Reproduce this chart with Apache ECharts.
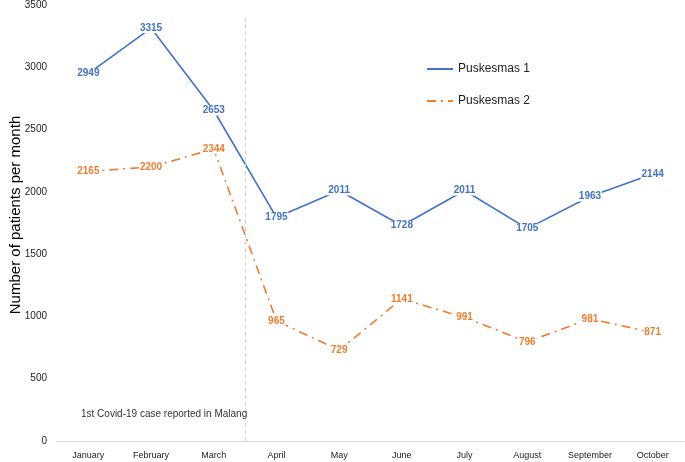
<!DOCTYPE html>
<html><head><meta charset="utf-8">
<script src="https://cdn.jsdelivr.net/npm/echarts@6/dist/echarts.min.js"></script>
<style>html,body{margin:0;padding:0;background:#fff}#c{width:685px;height:462px}</style>
</head><body><div id="c"></div>
<script>
const months = ['January','February','March','April','May','June','July','August','September','October'];
const puskesmas1 = [2949, 3315, 2653, 1795, 2011, 1728, 2011, 1705, 1963, 2144];
const puskesmas2 = [2165, 2200, 2344, 965, 729, 1141, 991, 796, 981, 871];
const seriesNames = ['Puskesmas 1', 'Puskesmas 2'];
const covidBoundary = 3;      // boundary between March and April (in category units)
const covidLineTop = 3400;
const covidNote = '1st Covid-19 case reported in Malang';
const yTicks = {min: 0, max: 3500, interval: 500};

const chart = echarts.init(document.getElementById('c'));
const lbl = (color) => ({
  show: true, position: 'inside', color: color, fontSize: 10, fontWeight: 'bold',
  fontFamily: 'Arial, Liberation Sans, sans-serif',
  backgroundColor: '#fff', padding: [0, 1]
});
chart.setOption({
  animation: false,
  grid: {left: 57, right: 1, top: 5, bottom: 21, containLabel: false, outerBoundsMode: 'none'},
  legend: {
    data: seriesNames, orient: 'vertical', left: 421, top: 58, itemGap: 20,
    itemWidth: 26, itemHeight: 10, itemStyle: {opacity: 0},
    textStyle: {fontSize: 12, color: '#222', fontFamily: 'Liberation Sans, Arial, sans-serif'}
  },
  title: {
    text: covidNote, left: 76, top: 404,
    textStyle: {fontSize: 10, fontWeight: 'normal', color: '#333', fontFamily: 'Liberation Sans, Arial, sans-serif'}
  },
  xAxis: [{
    type: 'category', data: months, boundaryGap: true,
    axisLine: {lineStyle: {color: '#d9d9d9'}}, axisTick: {show: false},
    axisLabel: {fontSize: 9, color: '#222', margin: 10, interval: 0,
      fontFamily: 'Liberation Sans, Arial, sans-serif'}
  }, {
    type: 'value', min: 0, max: months.length, show: false
  }],
  yAxis: {
    type: 'value', min: yTicks.min, max: yTicks.max, interval: yTicks.interval,
    name: 'Number of patients per month', nameLocation: 'middle', nameGap: 34, nameMoveOverlap: false,
    nameTextStyle: {fontSize: 15, color: '#000', fontFamily: 'Liberation Sans, Arial, sans-serif', padding: [0, 0, 0, 16]},
    splitLine: {show: false}, axisLine: {show: false}, axisTick: {show: false},
    axisLabel: {fontSize: 10, color: '#222', margin: 10, formatter: (v) => String(v),
      fontFamily: 'Liberation Sans, Arial, sans-serif'}
  },
  series: [{
    name: seriesNames[0], type: 'line', data: puskesmas1, symbol: 'circle', symbolSize: 0, showSymbol: true,
    lineStyle: {color: '#4472C4', width: 1.6}, itemStyle: {color: '#4472C4'},
    label: lbl('#4472C4'), z: 3
  }, {
    name: seriesNames[1], type: 'line', data: puskesmas2, symbol: 'circle', symbolSize: 0, showSymbol: true,
    lineStyle: {color: '#ED7D31', width: 1.6, type: [9, 5, 2, 5]}, itemStyle: {color: '#ED7D31'},
    label: lbl('#ED7D31'), z: 3
  }, {
    name: 'covid', type: 'line', xAxisIndex: 1, yAxisIndex: 0, data: [],
    markLine: {
      silent: true, symbol: 'none', label: {show: false},
      lineStyle: {color: '#cfcfcf', type: [4, 3], width: 1},
      data: [[{coord: [covidBoundary, 0]}, {coord: [covidBoundary, covidLineTop]}]]
    }
  }]
});
</script></body></html>
